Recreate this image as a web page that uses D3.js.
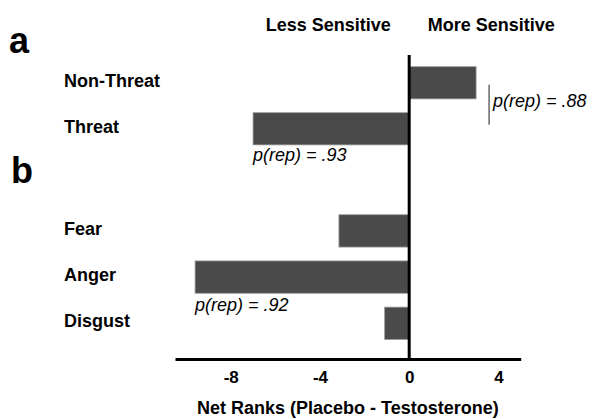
<!DOCTYPE html>
<html>
<head>
<meta charset="utf-8">
<script src="https://cdn.jsdelivr.net/npm/d3@7"></script>
<style>
  body { margin: 0; background: #fff; }
  svg text { font-family: "Liberation Sans", Arial, sans-serif; fill: #000; }
</style>
</head>
<body>
<div id="chart"></div>
<script>
// panel a / panel b categories and net ranks
var threatCats = ['Non-Threat', 'Threat'];
var threatVals = [3.0, -7.0];
var emotionCats = ['Fear', 'Anger', 'Disgust'];
var emotionVals = [-3.15, -9.6, -1.1];
var tickVals = [-8, -4, 0, 4];
var prepLabels = ['p(rep) = .88', 'p(rep) = .93', 'p(rep) = .92'];

var width = 594,
    height = 419,
    axisY = 359;

var svg = d3.select('#chart')
  .append('svg')
  .attr('width', width)
  .attr('height', height);

var xScale = d3.scaleLinear()
  .domain([-10.5, 5])
  .range([175, 520.7]);

var yA = d3.scaleBand()
  .domain(threatCats)
  .range([59.8, 151.8])
  .paddingInner(0.3)
  .paddingOuter(0.15);

var yB = d3.scaleBand()
  .domain(emotionCats)
  .range([207.8, 346.4])
  .paddingInner(0.3)
  .paddingOuter(0.15);

function drawPanel(cats, vals, y) {
  var rows = cats.map(function(c, i) { return { name: c, value: vals[i] }; });

  svg.append('g').selectAll('rect')
    .data(rows)
    .enter()
    .append('rect')
    .attr('x', function(d) { return xScale(Math.min(0, d.value)); })
    .attr('y', function(d) { return y(d.name); })
    .attr('width', function(d) { return Math.abs(xScale(d.value) - xScale(0)); })
    .attr('height', y.bandwidth())
    .style('fill', '#4a4a4a')
    .style('stroke', '#9a9a9a')
    .style('stroke-width', 0.8);

  svg.append('g').selectAll('text')
    .data(rows)
    .enter()
    .append('text')
    .attr('x', 64)
    .attr('y', function(d) { return y(d.name) + y.bandwidth() / 2 + 4; })
    .style('font-size', '18px')
    .style('font-weight', 'bold')
    .text(function(d) { return d.name; });
}

drawPanel(threatCats, threatVals, yA);
drawPanel(emotionCats, emotionVals, yB);

// x axis
var xAxis = d3.axisBottom(xScale)
  .tickValues(tickVals)
  .tickSize(0)
  .tickSizeOuter(0)
  .tickPadding(12)
  .tickFormat(function(d) { return String(d); });

var xAxisGroup = svg.append('g')
  .attr('transform', 'translate(0,' + axisY + ')')
  .attr('font-size', 17)
  .call(xAxis);

xAxisGroup.select('.domain')
  .attr('stroke', '#000')
  .attr('stroke-width', 3);

xAxisGroup.selectAll('text')
  .style('font-size', '17px')
  .style('font-weight', 'bold')
  .style('font-family', '"Liberation Sans", Arial, sans-serif')
  .style('fill', '#000');

// zero line
svg.append('line')
  .attr('x1', xScale(0))
  .attr('x2', xScale(0))
  .attr('y1', 55)
  .attr('y2', axisY)
  .attr('stroke', '#000')
  .attr('stroke-width', 3);

// headers
svg.append('text')
  .attr('x', xScale(0) - 81)
  .attr('y', 31)
  .attr('text-anchor', 'middle')
  .style('font-size', '18px')
  .style('font-weight', 'bold')
  .text('Less Sensitive');

svg.append('text')
  .attr('x', xScale(0) + 82)
  .attr('y', 31)
  .attr('text-anchor', 'middle')
  .style('font-size', '18px')
  .style('font-weight', 'bold')
  .text('More Sensitive');

// panel letters
svg.append('text')
  .attr('x', 9)
  .attr('y', 53)
  .style('font-size', '36px')
  .style('font-weight', 'bold')
  .text('a');

svg.append('text')
  .attr('x', 11)
  .attr('y', 183)
  .style('font-size', '36px')
  .style('font-weight', 'bold')
  .text('b');

// x title
svg.append('text')
  .attr('x', (xScale.range()[0] + xScale.range()[1]) / 2)
  .attr('y', 414)
  .attr('text-anchor', 'middle')
  .style('font-size', '18px')
  .style('font-weight', 'bold')
  .text('Net Ranks (Placebo - Testosterone)');

// p(rep) annotations
var bracketX = xScale(threatVals[0]) + 13;
svg.append('line')
  .attr('x1', bracketX)
  .attr('x2', bracketX)
  .attr('y1', yA('Non-Threat') + yA.bandwidth() / 2 + 2)
  .attr('y2', yA('Threat') + yA.bandwidth() / 2 - 4)
  .attr('stroke', '#666')
  .attr('stroke-width', 1.5);

svg.append('text')
  .attr('x', bracketX + 4)
  .attr('y', 107)
  .style('font-size', '18px')
  .style('font-style', 'italic')
  .text(prepLabels[0]);

svg.append('text')
  .attr('x', xScale(threatVals[1]))
  .attr('y', yA('Threat') + yA.bandwidth() + 16)
  .style('font-size', '18px')
  .style('font-style', 'italic')
  .text(prepLabels[1]);

svg.append('text')
  .attr('x', xScale(emotionVals[1]))
  .attr('y', yB('Anger') + yB.bandwidth() + 17.5)
  .style('font-size', '18px')
  .style('font-style', 'italic')
  .text(prepLabels[2]);
</script>
</body>
</html>
